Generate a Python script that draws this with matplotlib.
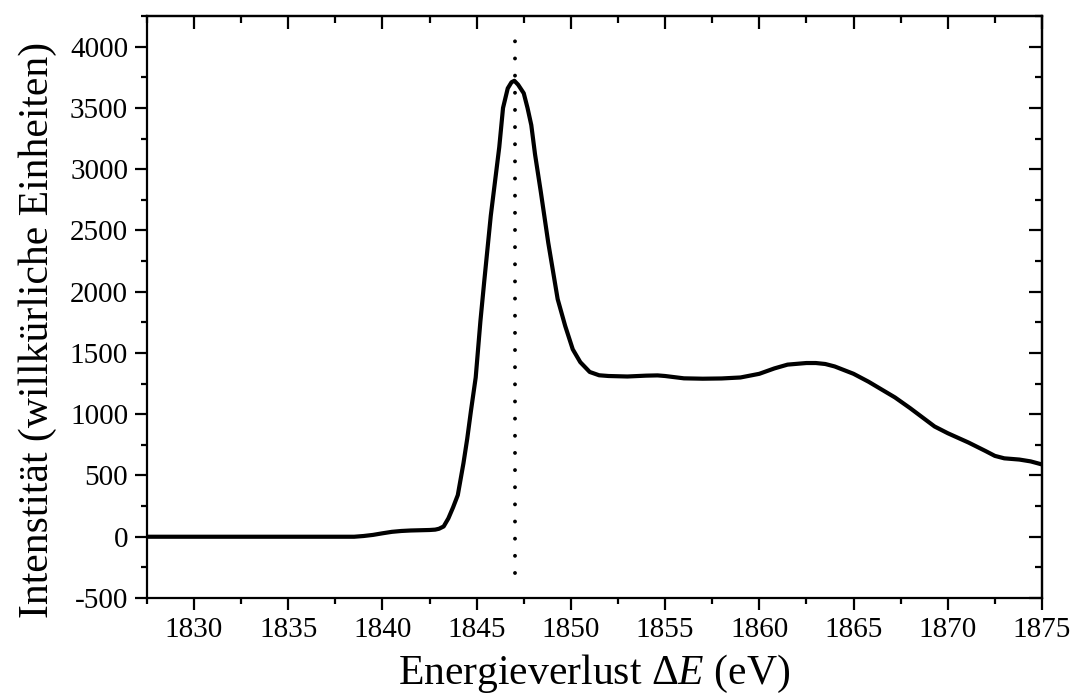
import matplotlib
matplotlib.use("Agg")
import matplotlib.pyplot as plt
from matplotlib.ticker import MultipleLocator

plt.rcParams['font.family'] = ['Liberation Serif', 'DejaVu Serif']
plt.rcParams['mathtext.fontset'] = 'custom'
plt.rcParams['mathtext.rm'] = 'Liberation Serif'
plt.rcParams['mathtext.it'] = 'Liberation Serif:italic'
plt.rcParams['axes.unicode_minus'] = False

# spectrum
energy = [1827.5, 1830, 1835, 1838.5, 1839, 1839.5, 1840, 1840.5, 1841, 1841.5,
          1842, 1842.5, 1842.8, 1843, 1843.25, 1843.5, 1843.75, 1844, 1844.3,
          1844.5, 1844.7, 1844.95, 1845.2, 1845.4, 1845.75, 1846.2, 1846.4,
          1846.65, 1846.85, 1847, 1847.2, 1847.5, 1847.7, 1847.9, 1848.1,
          1848.4, 1848.8, 1849.3, 1849.7, 1850.1, 1850.5, 1851, 1851.5, 1852,
          1853, 1854, 1854.6, 1855, 1856, 1857, 1858, 1859, 1860, 1860.8,
          1861.5, 1862.5, 1863, 1863.5, 1864, 1865, 1865.8, 1867.2, 1868,
          1869.3, 1870, 1871.1, 1872, 1872.5, 1873, 1873.8, 1874.4, 1875]
intensity = [0, 0, 0, 0, 6, 15, 28, 40, 47, 51, 53, 55, 58, 65, 84, 150, 240,
             340, 600, 800, 1030, 1300, 1760, 2080, 2620, 3180, 3500, 3660,
             3710, 3722, 3690, 3620, 3500, 3360, 3120, 2820, 2400, 1939, 1720,
             1530, 1425, 1345, 1318, 1312, 1308, 1315, 1317, 1312, 1293, 1290,
             1292, 1300, 1330, 1374, 1405, 1418, 1418, 1410, 1390, 1330, 1265,
             1137, 1050, 900, 845, 769, 700, 660, 640, 630, 615, 590]
peak_energy = 1847.05
vline_range = [-300, 4130]

x_ticks = [1830, 1835, 1840, 1845, 1850, 1855, 1860, 1865, 1870, 1875]
y_ticks = [-500, 0, 500, 1000, 1500, 2000, 2500, 3000, 3500, 4000]

fig = plt.figure(figsize=(10.72, 6.99), dpi=100)
ax = fig.add_axes([0.137, 0.1445, 0.835, 0.8325])

ax.plot(energy, intensity, color='black', lw=3.0, solid_joinstyle='round',
        solid_capstyle='butt')
ax.plot([peak_energy, peak_energy], vline_range, color='black', lw=2.8,
        linestyle=(0, (0.01, 4.4)), dash_capstyle='round')

ax.set_xlim(1827.5, 1875)
ax.set_ylim(-500, 4250)
ax.set_xticks(x_ticks)
ax.set_yticks(y_ticks)
ax.xaxis.set_minor_locator(MultipleLocator(2.5))
ax.yaxis.set_minor_locator(MultipleLocator(250))

for s in ax.spines.values():
    s.set_linewidth(1.6)

ax.tick_params(which='major', direction='out', length=8.5, width=1.6,
               labelsize=21, pad=5)
ax.tick_params(which='minor', direction='out', length=4.5, width=1.6)

# inward ticks on top and right
top = ax.secondary_xaxis('top')
top.set_xticks(x_ticks)
top.xaxis.set_minor_locator(MultipleLocator(2.5))
top.tick_params(which='major', direction='in', length=9.5, width=1.6, labeltop=False)
top.tick_params(which='minor', direction='in', length=5, width=1.6)
right = ax.secondary_yaxis('right')
right.set_yticks(y_ticks)
right.yaxis.set_minor_locator(MultipleLocator(250))
right.tick_params(which='major', direction='in', length=9.5, width=1.6, labelright=False)
right.tick_params(which='minor', direction='in', length=5, width=1.6)
for sec in (top, right):
    for s in sec.spines.values():
        s.set_linewidth(1.6)

ax.set_xlabel('Energieverlust $\\Delta\\mathit{E}$ (eV)', fontsize=30, labelpad=7)
ax.set_ylabel('Intenstität (willkürliche Einheiten)', fontsize=30)
ax.yaxis.set_label_coords(-0.1, 0.46)

fig.savefig('out.png', dpi=100)
